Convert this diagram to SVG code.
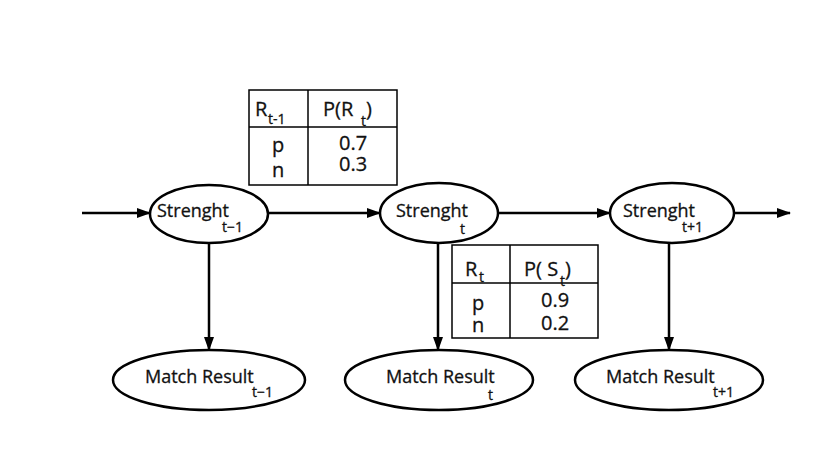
<svg xmlns="http://www.w3.org/2000/svg" width="829" height="451" viewBox="0 0 829 451">
<defs>
<marker id="ah" markerWidth="14" markerHeight="10" refX="13" refY="5" orient="auto" markerUnits="userSpaceOnUse">
<path d="M0,0 L14,5 L0,10 Z" fill="#000"/>
</marker>
<style>
.node{fill:#fff;stroke:#000;stroke-width:2.5}
.edge{stroke:#000;stroke-width:2.5;fill:none}
.tb{fill:#fff;stroke:#000;stroke-width:1.5}
.tl{stroke:#000;stroke-width:1.5}
text{font-family:"Open Sans","Liberation Sans",sans-serif;fill:#111;stroke:#111;stroke-width:0.3}
.lb{font-size:18px}
.sb{font-size:14px}
.tt{font-size:20px}
.ts{font-size:14px}
</style>
</defs>
<rect width="829" height="451" fill="#fff"/>
<g id="connectors">
<line class="edge" x1="82" y1="213" x2="150" y2="213" marker-end="url(#ah)"/>
<line class="edge" x1="268" y1="213" x2="380" y2="213" marker-end="url(#ah)"/>
<line class="edge" x1="498" y1="213" x2="610" y2="213" marker-end="url(#ah)"/>
<line class="edge" x1="735" y1="213" x2="790" y2="213" marker-end="url(#ah)"/>
<line class="edge" x1="209" y1="243" x2="209" y2="350" marker-end="url(#ah)"/>
<line class="edge" x1="438" y1="243" x2="438" y2="350" marker-end="url(#ah)"/>
<line class="edge" x1="669" y1="243" x2="669" y2="350" marker-end="url(#ah)"/>
</g>
<g id="s1">
<ellipse class="node" cx="209" cy="214" rx="59" ry="29"/>
<text class="lb" x="157" y="217">Strenght</text>
<text class="sb" x="222" y="232">t−1</text>
</g>
<g id="s2">
<ellipse class="node" cx="439" cy="213" rx="59" ry="30"/>
<text class="lb" x="396" y="217">Strenght</text>
<text class="sb" x="460" y="234">t</text>
</g>
<g id="s3">
<ellipse class="node" cx="672" cy="213" rx="62" ry="30"/>
<text class="lb" x="623" y="217">Strenght</text>
<text class="sb" x="682" y="232">t+1</text>
</g>
<g id="m1">
<ellipse class="node" cx="209" cy="380" rx="96" ry="30"/>
<text class="lb" x="145" y="383">Match Result</text>
<text class="sb" x="252" y="397">t−1</text>
</g>
<g id="m2">
<ellipse class="node" cx="439" cy="380" rx="94" ry="30"/>
<text class="lb" x="386" y="383">Match Result</text>
<text class="sb" x="488" y="400">t</text>
</g>
<g id="m3">
<ellipse class="node" cx="669" cy="380" rx="94" ry="30"/>
<text class="lb" x="606" y="383">Match Result</text>
<text class="sb" x="713" y="397">t+1</text>
</g>
<g id="table1">
<rect class="tb" x="249" y="90" width="148" height="95"/>
<line class="tl" x1="249" y1="127" x2="397" y2="127"/>
<line class="tl" x1="308" y1="90" x2="308" y2="185"/>
<text class="tt" x="255" y="116">R</text>
<text class="ts" x="268" y="124">t-1</text>
<text class="tt" x="323" y="116">P(R</text>
<text class="tt" x="366" y="116">)</text>
<text class="ts" x="361" y="126">t</text>
<text class="tt" x="272" y="152">p</text>
<text class="tt" x="272" y="177">n</text>
<text class="tt" x="339" y="150">0.7</text>
<text class="tt" x="339" y="171">0.3</text>
</g>
<g id="table2">
<rect class="tb" x="452" y="245" width="146" height="93"/>
<line class="tl" x1="452" y1="283" x2="598" y2="283"/>
<line class="tl" x1="510" y1="245" x2="510" y2="338"/>
<text class="tt" x="465" y="276">R</text>
<text class="ts" x="479" y="282">t</text>
<text class="tt" x="524" y="276">P( S</text>
<text class="tt" x="565" y="276">)</text>
<text class="ts" x="560" y="286">t</text>
<text class="tt" x="472" y="310">p</text>
<text class="tt" x="472" y="332">n</text>
<text class="tt" x="541" y="307">0.9</text>
<text class="tt" x="541" y="330">0.2</text>
</g>
</svg>
